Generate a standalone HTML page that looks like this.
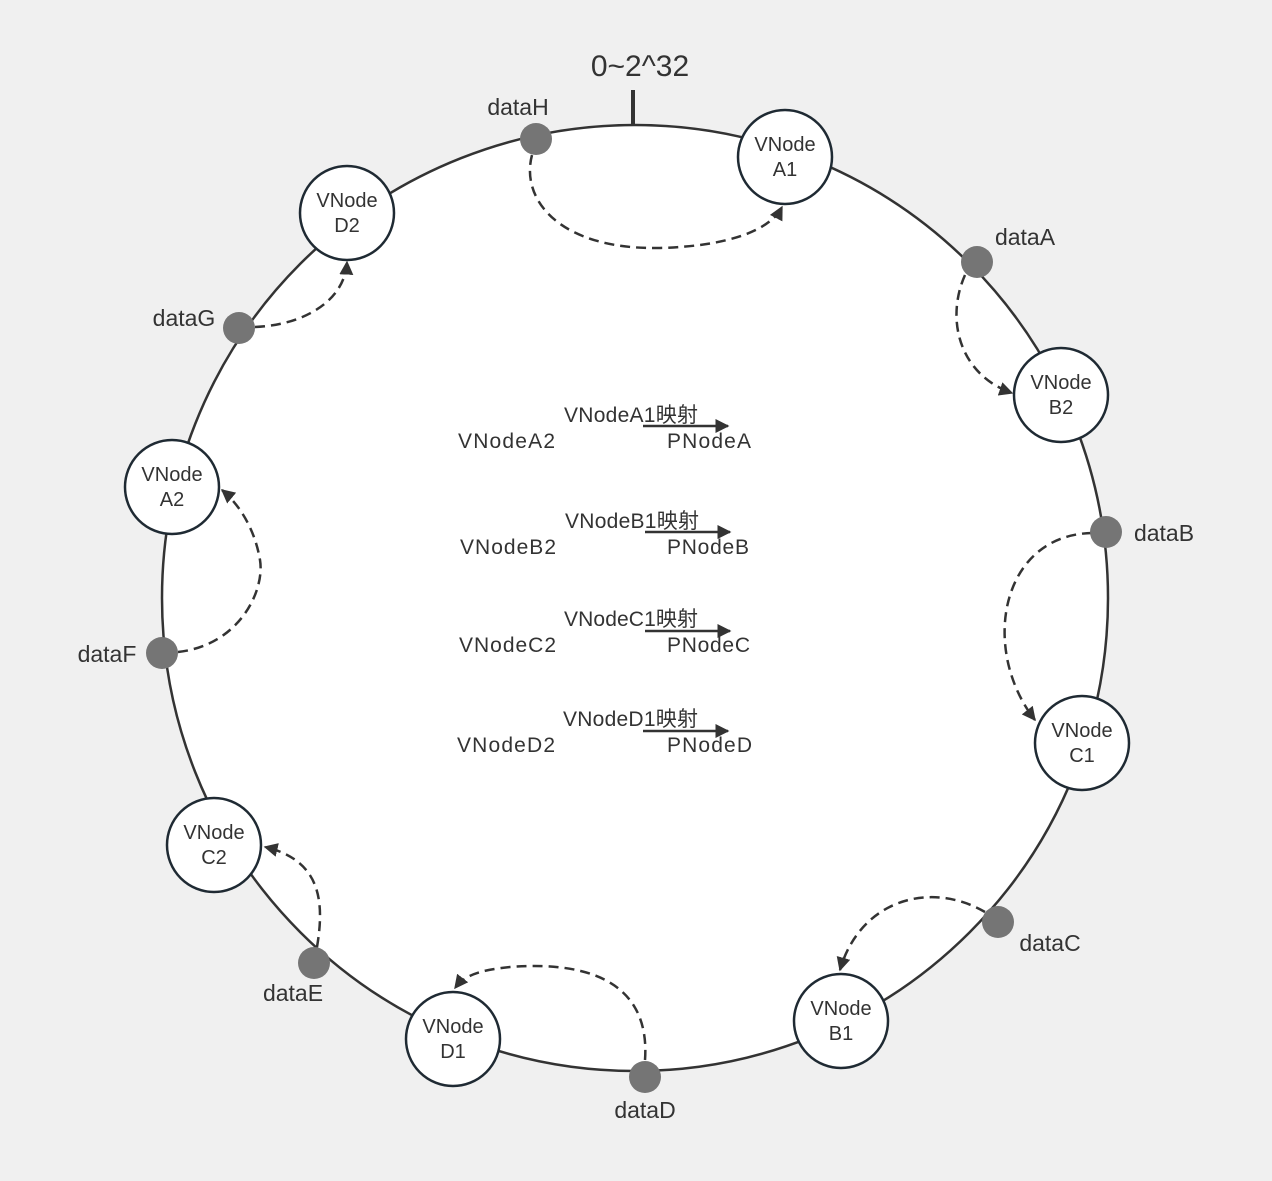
<!DOCTYPE html>
<html><head><style>body{margin:0;background:#f0f0f0}</style></head><body>
<svg width="1272" height="1176" viewBox="0 0 1272 1176" xmlns="http://www.w3.org/2000/svg" font-family="Liberation Sans, Noto Sans CJK SC, sans-serif">
<defs><marker id="ah" viewBox="0 0 10 10" refX="9" refY="5" markerWidth="7" markerHeight="7" orient="auto" markerUnits="userSpaceOnUse"><path d="M0,0 L10,5 L0,10 z" fill="#333"/></marker>
<marker id="ah2" viewBox="0 0 10 10" refX="9" refY="5" markerWidth="14" markerHeight="14" orient="auto" markerUnits="userSpaceOnUse"><path d="M0,0 L10,5 L0,10 z" fill="#333"/></marker></defs>
<rect width="1272" height="1176" fill="#f0f0f0"/>
<circle cx="635" cy="598" r="473" fill="#fff" stroke="#333" stroke-width="2.5"/>
<line x1="633" y1="90" x2="633" y2="125" stroke="#333" stroke-width="4"/>
<text x="640" y="76" font-size="30" text-anchor="middle" fill="#333">0~2^32</text>
<g fill="none" stroke="#333" stroke-width="2.5" stroke-dasharray="10,6" marker-end="url(#ah2)">
<path d="M532,155 C520,200 560,250 660,248 C730,246 770,230 782,207"/>
<path d="M965,275 C945,320 960,375 1012,393"/>
<path d="M1092,533 C1000,535 980,650 1035,720"/>
<path d="M985,912 C930,880 860,900 840,970"/>
<path d="M645,1060 C650,990 600,960 510,967 C480,970 465,975 455,988"/>
<path d="M317,947 C325,900 320,860 265,847"/>
<path d="M178,652 C240,645 265,590 260,560 C255,530 240,505 222,490"/>
<path d="M255,327 C305,325 345,300 347,262"/>
</g>
<g fill="#fff" stroke="#1f2a33" stroke-width="2.5">
<circle cx="785" cy="157" r="47"/><circle cx="347" cy="213" r="47"/><circle cx="1061" cy="395" r="47"/><circle cx="172" cy="487" r="47"/>
<circle cx="1082" cy="743" r="47"/><circle cx="214" cy="845" r="47"/><circle cx="841" cy="1021" r="47"/><circle cx="453" cy="1039" r="47"/>
</g>
<g font-size="20" fill="#333" text-anchor="middle">
<text x="785" y="151">VNode</text><text x="785" y="176">A1</text>
<text x="347" y="207">VNode</text><text x="347" y="232">D2</text>
<text x="1061" y="389">VNode</text><text x="1061" y="414">B2</text>
<text x="172" y="481">VNode</text><text x="172" y="506">A2</text>
<text x="1082" y="737">VNode</text><text x="1082" y="762">C1</text>
<text x="214" y="839">VNode</text><text x="214" y="864">C2</text>
<text x="841" y="1015">VNode</text><text x="841" y="1040">B1</text>
<text x="453" y="1033">VNode</text><text x="453" y="1058">D1</text>
</g>
<g fill="#757575">
<circle cx="536" cy="139" r="16"/><circle cx="977" cy="262" r="16"/><circle cx="1106" cy="532" r="16"/><circle cx="998" cy="922" r="16"/>
<circle cx="645" cy="1077" r="16"/><circle cx="314" cy="963" r="16"/><circle cx="162" cy="653" r="16"/><circle cx="239" cy="328" r="16"/>
</g>
<g font-size="23" fill="#333" text-anchor="middle">
<text x="518" y="115">dataH</text><text x="1025" y="245">dataA</text><text x="1164" y="541">dataB</text><text x="1050" y="951">dataC</text>
<text x="645" y="1118">dataD</text><text x="293" y="1001">dataE</text><text x="107" y="662">dataF</text><text x="184" y="326">dataG</text>
</g>
<g font-size="21" fill="#333">
<text x="458" y="448" textLength="97">VNodeA2</text><text x="564" y="422" textLength="134">VNodeA1映射</text><text x="667" y="448" textLength="84">PNodeA</text>
<text x="460" y="554" textLength="96">VNodeB2</text><text x="565" y="528" textLength="134">VNodeB1映射</text><text x="667" y="554" textLength="82">PNodeB</text>
<text x="459" y="652" textLength="97">VNodeC2</text><text x="564" y="626" textLength="134">VNodeC1映射</text><text x="667" y="652" textLength="83">PNodeC</text>
<text x="457" y="752" textLength="98">VNodeD2</text><text x="563" y="726" textLength="135">VNodeD1映射</text><text x="667" y="752" textLength="85">PNodeD</text>
</g>
<g stroke="#333" stroke-width="2.5" marker-end="url(#ah2)">
<line x1="643" y1="426" x2="728" y2="426"/><line x1="645" y1="532" x2="730" y2="532"/>
<line x1="645" y1="631" x2="730" y2="631"/><line x1="643" y1="731" x2="728" y2="731"/>
</g>
</svg>
</body></html>
